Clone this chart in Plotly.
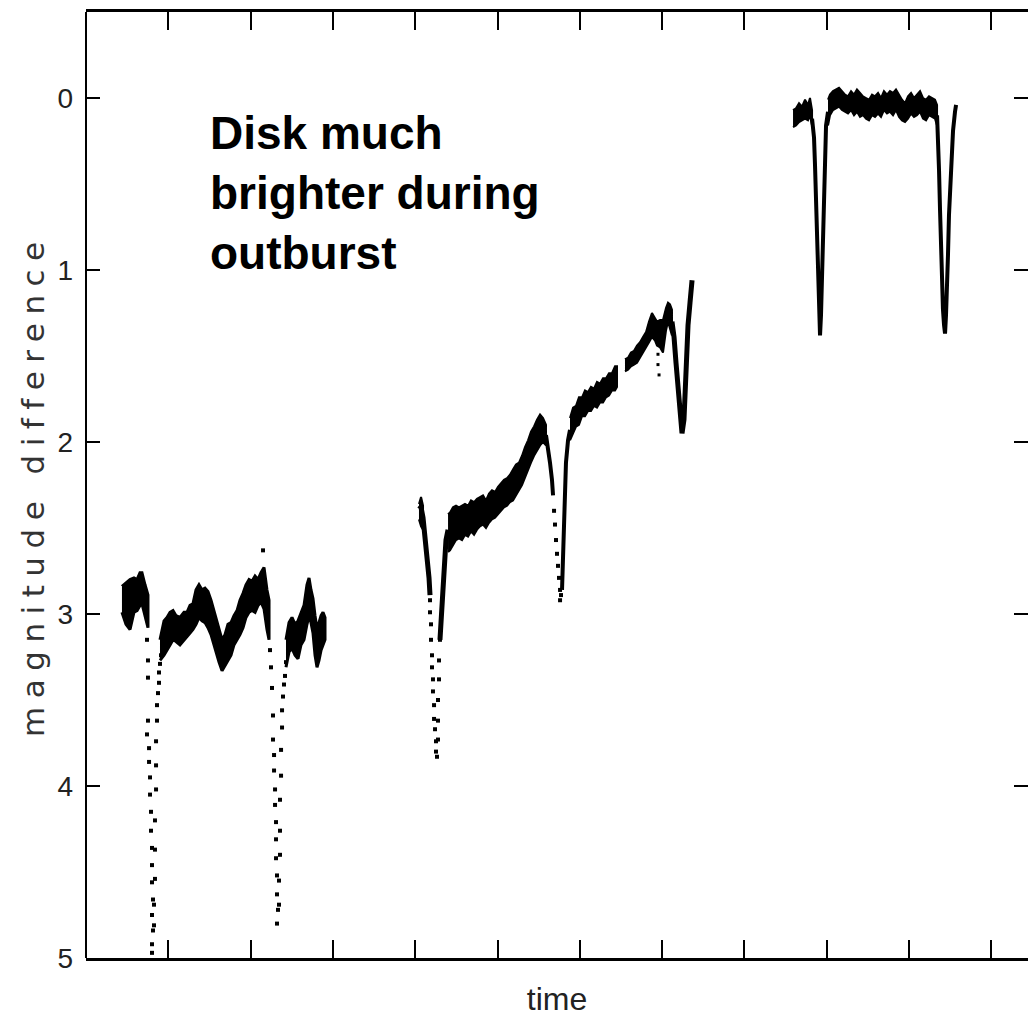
import plotly.graph_objects as go

# ---------------- light-curve data (time in tick units, magnitude difference) ----------------
# Quiescence: out-of-eclipse band, bright edge (HI) and faint edge (LO)
Q1_T = [0.437, 0.486, 0.535, 0.583, 0.620, 0.656, 0.680, 0.717, 0.753]
Q1_HI = [2.84, 2.82, 2.80, 2.79, 2.80, 2.76, 2.76, 2.83, 2.89]
Q1_LO = [2.99, 3.06, 3.09, 2.99, 2.98, 2.95, 2.94, 3.01, 3.08]

Q2_T = [0.899, 0.948, 0.984, 1.021, 1.057, 1.094, 1.142, 1.191, 1.227, 1.264, 1.300, 1.337,
        1.373, 1.410, 1.446, 1.482, 1.519, 1.543, 1.580, 1.616, 1.653, 1.689, 1.725, 1.762,
        1.798, 1.835, 1.871, 1.908, 1.944, 1.981, 2.017, 2.054, 2.090, 2.126, 2.163, 2.199, 2.224]
Q2_HI = [3.15, 3.04, 3.02, 2.99, 2.98, 3.01, 3.02, 2.99, 2.99, 2.95, 2.94, 2.86,
         2.83, 2.86, 2.85, 2.87, 2.92, 2.96, 3.02, 3.08, 3.15, 3.12, 3.06, 3.05,
         3.01, 2.98, 2.92, 2.88, 2.83, 2.80, 2.81, 2.78, 2.80, 2.76, 2.73, 2.86, 2.92]
Q2_LO = [3.27, 3.24, 3.21, 3.18, 3.15, 3.16, 3.18, 3.15, 3.13, 3.11, 3.09, 3.06,
         3.02, 3.04, 3.05, 3.08, 3.12, 3.15, 3.22, 3.28, 3.33, 3.30, 3.27, 3.24,
         3.18, 3.15, 3.12, 3.08, 3.02, 2.99, 2.98, 2.99, 2.95, 2.93, 2.97, 3.09, 3.15]

Q3_T = [2.430, 2.467, 2.503, 2.540, 2.576, 2.612, 2.649, 2.685, 2.710, 2.734, 2.758, 2.783,
        2.807, 2.831, 2.856, 2.880, 2.904]
Q3_HI = [3.15, 3.05, 3.02, 3.06, 3.04, 2.99, 2.95, 2.83, 2.79, 2.86, 2.91, 3.01,
         3.09, 3.05, 3.01, 2.99, 3.02]
Q3_LO = [3.31, 3.22, 3.20, 3.24, 3.26, 3.18, 3.15, 3.06, 3.01, 3.05, 3.11, 3.24,
         3.31, 3.27, 3.21, 3.18, 3.15]

# Quiescent eclipses: sparse individual points
QE1_T = [0.741, 0.753, 0.753, 0.753, 0.741, 0.766, 0.766, 0.778, 0.778, 0.790, 0.790, 0.802,
         0.802, 0.802, 0.814, 0.802, 0.814, 0.802, 0.802, 0.826, 0.826, 0.838, 0.838, 0.838,
         0.851, 0.851, 0.851, 0.863, 0.863, 0.875, 0.887, 0.887, 0.899, 0.911]
QE1_M = [3.15, 3.27, 3.37, 3.62, 3.70, 3.78, 3.86, 3.95, 4.05, 4.15, 4.26, 4.36,
         4.46, 4.56, 4.66, 4.75, 4.84, 4.92, 4.97, 4.81, 4.69, 4.54, 4.37, 4.20,
         4.02, 3.88, 3.74, 3.62, 3.53, 3.46, 3.40, 3.34, 3.29, 3.24]
QE2_T = [2.236, 2.248, 2.260, 2.272, 2.272, 2.285, 2.285, 2.297, 2.297, 2.309, 2.309, 2.309,
         2.321, 2.321, 2.333, 2.321, 2.345, 2.345, 2.357, 2.357, 2.357, 2.370, 2.370, 2.382,
         2.382, 2.394, 2.406, 2.418, 2.430]
QE2_M = [3.21, 3.31, 3.43, 3.59, 3.73, 3.82, 3.91, 4.02, 4.11, 4.21, 4.31, 4.42,
         4.52, 4.63, 4.72, 4.80, 4.69, 4.55, 4.40, 4.26, 4.08, 3.94, 3.79, 3.66,
         3.56, 3.48, 3.41, 3.36, 3.28]
Q_FLARE_T = [2.151]
Q_FLARE_M = [2.63]

# Rise to outburst
R1_T = [4.046, 4.071, 4.095]
R1_HI = [2.36, 2.32, 2.37]
R1_LO = [2.45, 2.49, 2.51]
RI1_T = [4.046, 4.071, 4.095, 4.119, 4.144, 4.168, 4.180]
RI1_M = [2.37, 2.38, 2.44, 2.54, 2.66, 2.79, 2.89]
RE1_T = [4.180, 4.180, 4.192, 4.192, 4.204, 4.204, 4.216, 4.216, 4.229, 4.229, 4.241, 4.253,
         4.253, 4.265, 4.277, 4.277, 4.277, 4.289, 4.289, 4.301]
RE1_M = [2.92, 2.99, 3.06, 3.15, 3.24, 3.31, 3.38, 3.45, 3.53, 3.61, 3.67, 3.74,
         3.80, 3.83, 3.73, 3.62, 3.50, 3.38, 3.27, 3.15]
RO1_T = [4.301, 4.313, 4.326, 4.338, 4.350, 4.362, 4.374, 4.399]
RO1_M = [3.15, 3.05, 2.93, 2.83, 2.73, 2.64, 2.57, 2.51]

R2_T = [4.399, 4.423, 4.459, 4.496, 4.532, 4.569, 4.605, 4.642, 4.678, 4.715, 4.751, 4.787,
        4.824, 4.860, 4.897, 4.933, 4.970, 5.006, 5.043, 5.079, 5.116, 5.152, 5.188, 5.225,
        5.261, 5.298, 5.334, 5.371, 5.407, 5.444, 5.480, 5.517, 5.553, 5.589]
R2_HI = [2.42, 2.41, 2.38, 2.37, 2.38, 2.37, 2.36, 2.37, 2.34, 2.35, 2.33, 2.32,
         2.31, 2.34, 2.30, 2.28, 2.29, 2.26, 2.24, 2.22, 2.21, 2.19, 2.16, 2.13,
         2.12, 2.08, 2.03, 1.99, 1.94, 1.91, 1.87, 1.84, 1.86, 1.90]
R2_LO = [2.64, 2.63, 2.60, 2.57, 2.56, 2.57, 2.54, 2.55, 2.52, 2.54, 2.51, 2.49,
         2.48, 2.50, 2.47, 2.45, 2.44, 2.42, 2.40, 2.38, 2.37, 2.35, 2.34, 2.31,
         2.28, 2.25, 2.21, 2.16, 2.12, 2.08, 2.05, 2.02, 2.00, 2.02]
RI2_T = [5.589, 5.614, 5.638, 5.662, 5.675]
RI2_M = [1.96, 2.03, 2.12, 2.22, 2.31]
RE2_T = [5.687, 5.699, 5.711, 5.723, 5.735, 5.747, 5.760, 5.760, 5.772]
RE2_M = [2.40, 2.48, 2.57, 2.65, 2.72, 2.79, 2.86, 2.92, 2.89]
RO2_T = [5.784, 5.796, 5.808, 5.820, 5.832, 5.857, 5.881]
RO2_M = [2.86, 2.69, 2.48, 2.28, 2.12, 1.99, 1.93]

R3_T = [5.881, 5.918, 5.954, 5.990, 6.027, 6.063, 6.100, 6.136, 6.173, 6.209, 6.246, 6.282,
        6.319, 6.355, 6.391, 6.428, 6.452]
R3_HI = [1.86, 1.80, 1.79, 1.74, 1.74, 1.70, 1.71, 1.68, 1.69, 1.65, 1.66, 1.63,
         1.63, 1.60, 1.60, 1.56, 1.56]
R3_LO = [1.99, 1.95, 1.91, 1.90, 1.85, 1.85, 1.82, 1.82, 1.79, 1.80, 1.77, 1.77,
         1.74, 1.73, 1.70, 1.70, 1.68]

R4_T = [6.549, 6.586, 6.622, 6.659, 6.695, 6.732, 6.768, 6.805, 6.841, 6.877, 6.914, 6.938,
        6.975, 7.011, 7.048, 7.072, 7.096, 7.120]
R4_HI = [1.52, 1.51, 1.48, 1.47, 1.44, 1.42, 1.39, 1.36, 1.30, 1.25, 1.28, 1.30,
         1.29, 1.29, 1.22, 1.19, 1.20, 1.23]
R4_LO = [1.59, 1.58, 1.56, 1.55, 1.54, 1.51, 1.48, 1.45, 1.42, 1.39, 1.41, 1.44,
         1.45, 1.48, 1.35, 1.30, 1.34, 1.38]
R_DROP_T = [6.950, 6.950, 6.963]
R_DROP_M = [1.49, 1.55, 1.61]
RE3_T = [7.120, 7.145, 7.169, 7.193, 7.218, 7.242, 7.266, 7.278, 7.291, 7.303, 7.315, 7.339, 7.364]
RE3_M = [1.30, 1.39, 1.54, 1.71, 1.84, 1.95, 1.87, 1.72, 1.55, 1.41, 1.32, 1.19, 1.06]

# Outburst maximum
O1_T = [8.591, 8.627, 8.664, 8.700, 8.737, 8.773, 8.797, 8.822]
O1_HI = [0.07, 0.06, 0.03, 0.05, 0.01, 0.04, 0.00, 0.07]
O1_LO = [0.17, 0.16, 0.14, 0.13, 0.12, 0.13, 0.10, 0.16]
OE1_T = [8.822, 8.846, 8.858, 8.870, 8.883, 8.895, 8.907, 8.919, 8.931, 8.943, 8.955, 8.967,
         8.980, 8.992, 9.016]
OE1_M = [0.12, 0.23, 0.39, 0.59, 0.83, 1.06, 1.23, 1.38, 1.26, 1.06, 0.77, 0.51,
         0.29, 0.16, 0.08]
O2_T = [9.016, 9.040, 9.077, 9.113, 9.150, 9.186, 9.223, 9.259, 9.296, 9.332, 9.368, 9.405,
        9.441, 9.478, 9.514, 9.551, 9.587, 9.624, 9.660, 9.696, 9.733, 9.769, 9.806, 9.842,
        9.879, 9.915, 9.952, 9.988, 10.025, 10.061, 10.097, 10.134, 10.170, 10.207, 10.243,
        10.280, 10.316, 10.341]
O2_HI = [0.01, -0.02, -0.04, -0.05, -0.06, -0.04, -0.02, -0.01, -0.04, -0.02, -0.05, -0.03,
         -0.01, 0.00, 0.01, -0.02, -0.01, -0.03, 0.00, -0.04, -0.02, -0.04, -0.03, -0.05,
         -0.02, 0.01, 0.03, -0.01, -0.03, 0.00, -0.02, -0.04, 0.00, 0.01, -0.01,
         0.00, 0.01, 0.04]
O2_LO = [0.16, 0.10, 0.07, 0.06, 0.05, 0.07, 0.08, 0.09, 0.07, 0.10, 0.08, 0.11,
         0.10, 0.12, 0.13, 0.10, 0.11, 0.09, 0.11, 0.07, 0.09, 0.08, 0.10, 0.07,
         0.11, 0.13, 0.14, 0.12, 0.09, 0.11, 0.10, 0.08, 0.12, 0.13, 0.10,
         0.11, 0.12, 0.16]
OE2_T = [10.341, 10.353, 10.365, 10.377, 10.389, 10.401, 10.413, 10.426, 10.438, 10.450,
         10.462, 10.474, 10.486, 10.499, 10.511, 10.535, 10.559, 10.572]
OE2_M = [0.10, 0.22, 0.42, 0.65, 0.88, 1.09, 1.23, 1.32, 1.37, 1.26,
         1.12, 0.91, 0.68, 0.51, 0.35, 0.19, 0.08, 0.04]

# Axes
X_RANGE = [0, 11.446]
Y_RANGE = [5, -0.5]
Y_TICKS = [0, 1, 2, 3, 4, 5]
Y_TICKTEXT = ["0", "1", "2", "3", "4", "5"]

NOTE = "Disk much<br>brighter during<br>outburst"

INK = "black"
fig = go.Figure()


def band(t, hi, lo, edge=2):
    """Noisy photometry drawn as a filled envelope between its two edges."""
    fig.add_trace(go.Scatter(
        x=t + t[::-1], y=hi + lo[::-1], mode="lines", fill="toself",
        fillcolor=INK, line=dict(color=INK, width=edge), hoverinfo="skip"))


def trace(t, m, width=4):
    fig.add_trace(go.Scatter(x=t, y=m, mode="lines",
                             line=dict(color=INK, width=width), hoverinfo="skip"))


def points(t, m, size=4):
    fig.add_trace(go.Scatter(x=t, y=m, mode="markers",
                             marker=dict(color=INK, size=size, symbol="square"),
                             hoverinfo="skip"))


# quiescence
band(Q1_T, Q1_HI, Q1_LO, 3)
band(Q2_T, Q2_HI, Q2_LO, 3)
band(Q3_T, Q3_HI, Q3_LO, 3)
points(QE1_T, QE1_M)
points(QE2_T, QE2_M)
points(Q_FLARE_T, Q_FLARE_M)

# rise
band(R1_T, R1_HI, R1_LO)
trace(RI1_T, RI1_M, 5)
points(RE1_T, RE1_M)
trace(RO1_T, RO1_M, 5)
band(R2_T, R2_HI, R2_LO)
trace(RI2_T, RI2_M, 4)
points(RE2_T, RE2_M)
trace(RO2_T, RO2_M, 4)
band(R3_T, R3_HI, R3_LO)
band(R4_T, R4_HI, R4_LO)
points(R_DROP_T, R_DROP_M, 3)
trace(RE3_T, RE3_M, 5)

# outburst
band(O1_T, O1_HI, O1_LO)
trace(OE1_T, OE1_M, 4)
band(O2_T, O2_HI, O2_LO)
trace(OE2_T, OE2_M, 4)

AXIS_FONT = dict(family="Liberation Sans Narrow, Arial Narrow, sans-serif", size=28, color="#222")

fig.update_layout(
    width=1028, height=1029,
    margin=dict(l=86, r=0, t=12, b=71),
    paper_bgcolor="white", plot_bgcolor="white",
    showlegend=False,
)
fig.update_xaxes(
    range=X_RANGE, tick0=0, dtick=1, ticks="inside", ticklen=18, tickwidth=2,
    tickcolor=INK, showticklabels=False, showline=True, linewidth=3, linecolor=INK,
    mirror="ticks", showgrid=False, zeroline=False,
    title=dict(text="time", font=dict(AXIS_FONT, size=32), standoff=28),
)
# left frame line is drawn as a shape so the mirrored side carries ticks only
fig.update_yaxes(
    range=Y_RANGE, tickvals=Y_TICKS, ticktext=Y_TICKTEXT, ticks="inside", ticklen=14,
    tickwidth=2, tickcolor=INK, tickfont=AXIS_FONT, ticklabelstandoff=12,
    showline=False, mirror="ticks",
    showgrid=False, zeroline=False,
)
fig.add_shape(type="line", xref="paper", yref="paper", x0=0, x1=0, y0=0, y1=1,
              line=dict(color=INK, width=2), layer="above")

# rotated y-axis label, widely letter-spaced
fig.add_annotation(
    xref="paper", yref="paper", x=-0.0563, y=0.5, xanchor="center", yanchor="middle",
    textangle=-90, showarrow=False,
    text='<span style="letter-spacing:8.5px">magnitude difference</span>',
    font=dict(family="DejaVu Sans, sans-serif", size=31, color="#333"),
)

fig.add_annotation(
    xref="paper", yref="paper", x=0.1295, y=0.902, xanchor="left", yanchor="top",
    align="left", showarrow=False, text="<b>" + NOTE + "</b>",
    font=dict(family="Liberation Sans, Arial, sans-serif", size=46, color="black"),
)

fig.write_html("out.html")
